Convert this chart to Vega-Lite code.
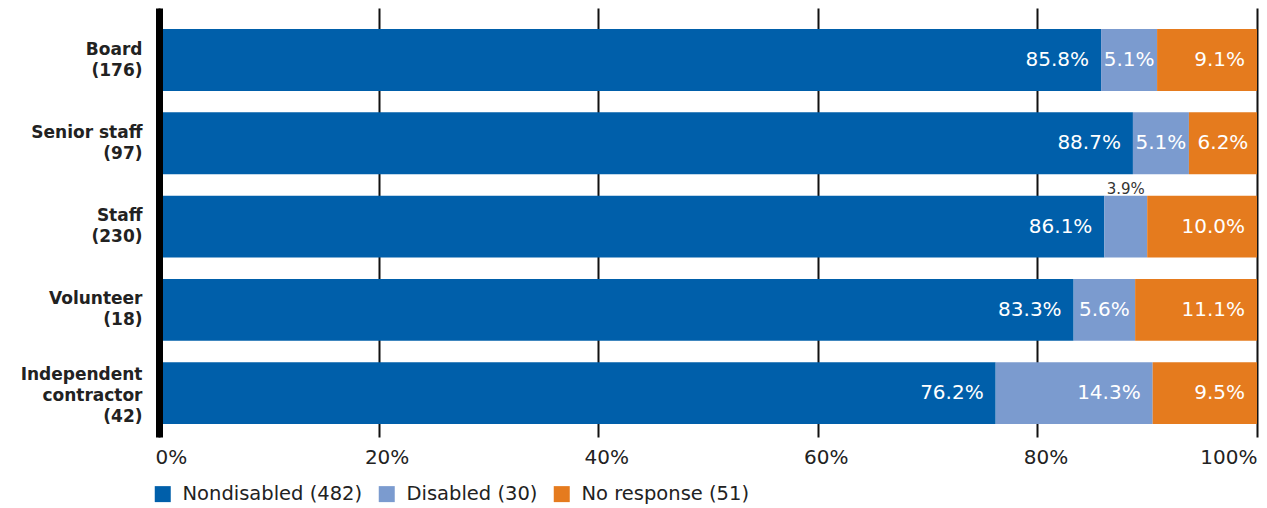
{
  "$schema": "https://vega.github.io/schema/vega-lite/v6.json",
  "width": 1098,
  "height": 429,
  "autosize": "none",
  "padding": {"left": 159, "top": 8, "right": 10, "bottom": 71},
  "background": "white",
  "config": {"view": {"stroke": null}, "font": "DejaVu Sans"},
  "data": {
    "values": [
      {"cat": "Board|(176)", "group": "Nondisabled (482)", "ord": 1, "pct": 85.8, "inside": true},
      {"cat": "Board|(176)", "group": "Disabled (30)", "ord": 2, "pct": 5.1, "inside": true},
      {"cat": "Board|(176)", "group": "No response (51)", "ord": 3, "pct": 9.1, "inside": true},
      {"cat": "Senior staff|(97)", "group": "Nondisabled (482)", "ord": 1, "pct": 88.7, "inside": true},
      {"cat": "Senior staff|(97)", "group": "Disabled (30)", "ord": 2, "pct": 5.1, "inside": true},
      {"cat": "Senior staff|(97)", "group": "No response (51)", "ord": 3, "pct": 6.2, "inside": true},
      {"cat": "Staff|(230)", "group": "Nondisabled (482)", "ord": 1, "pct": 86.1, "inside": true},
      {"cat": "Staff|(230)", "group": "Disabled (30)", "ord": 2, "pct": 3.9, "inside": false},
      {"cat": "Staff|(230)", "group": "No response (51)", "ord": 3, "pct": 10.0, "inside": true},
      {"cat": "Volunteer|(18)", "group": "Nondisabled (482)", "ord": 1, "pct": 83.3, "inside": true},
      {"cat": "Volunteer|(18)", "group": "Disabled (30)", "ord": 2, "pct": 5.6, "inside": true},
      {"cat": "Volunteer|(18)", "group": "No response (51)", "ord": 3, "pct": 11.1, "inside": true},
      {"cat": "Independent|contractor|(42)", "group": "Nondisabled (482)", "ord": 1, "pct": 76.2, "inside": true},
      {"cat": "Independent|contractor|(42)", "group": "Disabled (30)", "ord": 2, "pct": 14.3, "inside": true},
      {"cat": "Independent|contractor|(42)", "group": "No response (51)", "ord": 3, "pct": 9.5, "inside": true}
    ]
  },
  "transform": [
    {"stack": "pct", "groupby": ["cat"], "sort": [{"field": "ord"}], "as": ["x0", "x1"]},
    {"calculate": "(datum.x0 + datum.x1) / 2", "as": "xm"},
    {"calculate": "format(datum.pct, '.1f') + '%'", "as": "label"}
  ],
  "encoding": {
    "y": {
      "field": "cat",
      "type": "nominal",
      "sort": ["Board|(176)", "Senior staff|(97)", "Staff|(230)", "Volunteer|(18)", "Independent|contractor|(42)"],
      "scale": {"paddingInner": 0.257, "paddingOuter": 0.204, "align": 0.62},
      "axis": {
        "title": null,
        "labelExpr": "split(datum.value, '|')",
        "labelLineHeight": 21,
        "labelFontSize": 17,
        "labelFontWeight": "bold",
        "labelColor": "#222222",
        "labelPadding": 17,
        "labelOffset": {"condition": {"test": "indexof(datum.value, 'Independent') >= 0", "value": -18}, "value": -10.5},
        "ticks": false,
        "domain": true,
        "domainColor": "#000000",
        "domainWidth": 7,
        "grid": false,
        "zindex": 1
      }
    }
  },
  "layer": [
    {
      "mark": {"type": "bar"},
      "encoding": {
        "x": {
          "field": "x0",
          "type": "quantitative",
          "scale": {"domain": [0, 100], "nice": false},
          "axis": {
            "title": null,
            "values": [0, 20, 40, 60, 80, 100],
            "labelExpr": "datum.value + '%'",
            "labelFlush": true,
            "labelFontSize": 20,
            "labelColor": "#222222",
            "labelPadding": 10,
            "labelOffset": {"condition": [{"test": "datum.value == 0", "value": -4}, {"test": "datum.value == 100", "value": 0}], "value": 8},
            "domain": false,
            "ticks": false,
            "grid": true,
            "gridColor": "#111111",
            "gridWidth": 2,
            "gridOpacity": 1
          }
        },
        "x2": {"field": "x1"},
        "color": {
          "field": "group",
          "type": "nominal",
          "scale": {
            "domain": ["Nondisabled (482)", "Disabled (30)", "No response (51)"],
            "range": ["#005faa", "#7b9bcf", "#e57b1e"]
          },
          "legend": {
            "title": null,
            "orient": "none",
            "legendX": -6,
            "legendY": 476,
            "direction": "horizontal",
            "symbolType": "square",
            "symbolSize": 256,
            "symbolStrokeWidth": 0,
            "labelFontSize": 19.5,
            "labelLimit": 400,
            "labelColor": "#222222",
            "labelOffset": 10,
            "columnPadding": 14
          }
        }
      }
    },
    {
      "transform": [{"filter": "datum.inside && datum.pct >= 8"}],
      "mark": {"type": "text", "align": "right", "baseline": "middle", "dx": -12, "color": "white", "fontSize": 20},
      "encoding": {
        "x": {"field": "x1", "type": "quantitative"},
        "text": {"field": "label"}
      }
    },
    {
      "transform": [{"filter": "datum.inside && datum.pct < 8"}],
      "mark": {"type": "text", "align": "center", "baseline": "middle", "color": "white", "fontSize": 20},
      "encoding": {
        "x": {"field": "xm", "type": "quantitative"},
        "text": {"field": "label"}
      }
    },
    {
      "transform": [{"filter": "!datum.inside"}],
      "mark": {"type": "text", "align": "center", "baseline": "alphabetic", "dy": -2, "color": "#333333", "fontSize": 15},
      "encoding": {
        "x": {"field": "xm", "type": "quantitative"},
        "y": {
          "field": "cat",
          "type": "nominal",
          "sort": ["Board|(176)", "Senior staff|(97)", "Staff|(230)", "Volunteer|(18)", "Independent|contractor|(42)"],
          "bandPosition": 0
        },
        "text": {"field": "label"}
      }
    }
  ]
}
